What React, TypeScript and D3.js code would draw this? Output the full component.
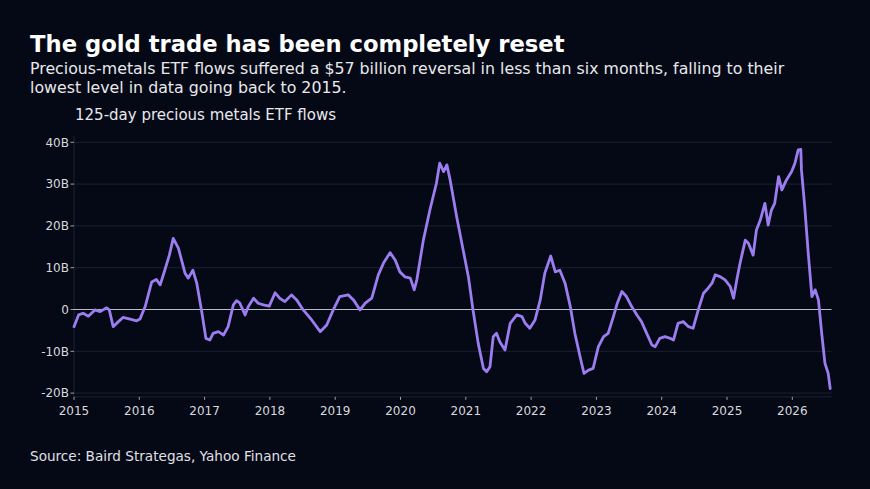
import { useEffect } from "react";
import * as d3 from "d3";

// decimal year of each reading
const years = [
  2015.0, 2015.07, 2015.14, 2015.22, 2015.32, 2015.4, 2015.5, 2015.54, 2015.6, 2015.68,
  2015.75, 2015.86, 2015.96, 2016.01, 2016.09, 2016.19, 2016.26, 2016.32, 2016.39, 2016.46,
  2016.52, 2016.6, 2016.7, 2016.75, 2016.82, 2016.88, 2016.96, 2017.02, 2017.08, 2017.13,
  2017.21, 2017.29, 2017.36, 2017.44, 2017.49, 2017.54, 2017.62, 2017.67, 2017.75, 2017.82,
  2017.9, 2017.99, 2018.08, 2018.15, 2018.23, 2018.33, 2018.41, 2018.51, 2018.64, 2018.77,
  2018.87, 2018.97, 2019.07, 2019.2, 2019.28, 2019.38, 2019.46, 2019.56, 2019.66, 2019.74,
  2019.84, 2019.92, 2019.99, 2020.07, 2020.15, 2020.21, 2020.25, 2020.35, 2020.45, 2020.55,
  2020.6, 2020.66, 2020.71, 2020.76, 2020.86, 2020.96, 2021.04, 2021.11, 2021.19, 2021.27,
  2021.32, 2021.37, 2021.42, 2021.47, 2021.52, 2021.6, 2021.68, 2021.78, 2021.86, 2021.91,
  2021.98, 2022.06, 2022.14, 2022.21, 2022.3, 2022.37, 2022.44, 2022.52, 2022.6, 2022.67,
  2022.75, 2022.81, 2022.88, 2022.95, 2023.03, 2023.11, 2023.18, 2023.26, 2023.32, 2023.39,
  2023.46, 2023.54, 2023.62, 2023.69, 2023.77, 2023.85, 2023.9, 2023.97, 2024.05, 2024.13,
  2024.18, 2024.25, 2024.33, 2024.41, 2024.48, 2024.56, 2024.64, 2024.71, 2024.77, 2024.82,
  2024.9, 2024.97, 2025.05, 2025.1, 2025.15, 2025.2, 2025.28, 2025.33, 2025.4, 2025.45,
  2025.51, 2025.58, 2025.63, 2025.68, 2025.73, 2025.79, 2025.84, 2025.91, 2025.99, 2026.04,
  2026.09, 2026.13, 2026.14, 2026.19, 2026.24, 2026.3, 2026.35, 2026.4, 2026.45, 2026.5,
  2026.55, 2026.58,
];

// 125-day flows, billions of dollars
const flows = [
  -4.1, -1.3, -0.9, -1.6, -0.1, -0.5, 0.4, -0.1, -4.1, -2.9,
  -1.9, -2.3, -2.7, -2.3, 0.7, 6.6, 7.2, 5.9, 9.4, 13.0,
  17.0, 14.6, 8.7, 7.5, 9.4, 6.3, -0.9, -6.9, -7.3, -5.7,
  -5.3, -6.1, -4.1, 1.1, 2.1, 1.5, -1.3, 0.7, 2.7, 1.5,
  1.1, 0.8, 4.0, 2.7, 1.9, 3.5, 2.3, -0.1, -2.5, -5.3,
  -3.7, -0.1, 3.1, 3.5, 2.3, -0.1, 1.5, 2.7, 8.3, 11.1,
  13.6, 11.8, 9.0, 7.8, 7.5, 4.7, 7.1, 16.6, 23.8, 30.2,
  35.0, 33.0, 34.6, 31.0, 22.2, 14.2, 7.8, -0.1, -8.1, -14.1,
  -14.9, -13.7, -6.5, -5.7, -7.7, -9.7, -3.3, -1.3, -1.7, -3.3,
  -4.5, -2.5, 2.3, 8.7, 12.8, 9.0, 9.4, 6.3, 0.7, -5.7,
  -11.3, -15.3, -14.5, -14.1, -8.9, -6.5, -5.7, -1.7, 1.5, 4.3,
  3.1, 0.7, -1.3, -2.9, -5.7, -8.5, -8.9, -6.9, -6.5, -6.9,
  -7.3, -3.3, -2.9, -4.1, -4.5, -0.1, 3.9, 5.1, 6.3, 8.3,
  7.8, 7.1, 5.5, 2.7, 7.1, 11.1, 16.6, 15.8, 13.0, 19.0,
  21.4, 25.4, 20.2, 23.8, 25.4, 31.8, 28.6, 31.0, 33.0, 35.0,
  38.2, 38.3, 33.4, 24.6, 14.2, 3.1, 4.7, 2.3, -5.7, -12.9,
  -15.3, -18.9,
];

const yTicks = [-20, -10, 0, 10, 20, 30, 40];
const xTicks = [2015, 2016, 2017, 2018, 2019, 2020, 2021, 2022, 2023, 2024, 2025, 2026];

const title = "The gold trade has been completely reset";
const subtitleLines = [
  "Precious-metals ETF flows suffered a $57 billion reversal in less than six months, falling to their",
  "lowest level in data going back to 2015.",
];
const chartLabel = "125-day precious metals ETF flows";
const source = "Source: Baird Strategas, Yahoo Finance";

const W = 870;
const H = 489;
const BG = "#050915";
const FONT = "'DejaVu Sans', sans-serif";

export default function App() {
  useEffect(() => {
    document.body.style.margin = "0";
    document.body.style.background = BG;
  }, []);

  const x = d3.scaleLinear().domain([2015, 2026.6]).range([74, 831.5]);
  const y = d3.scaleLinear().domain([-20, 40]).range([393.1, 142.3]);
  const yBottom = y(-20.9);
  const yTop = y(41.5);

  const points = years.map((t, i) => [t, flows[i]] as [number, number]);
  const line = d3
    .line<[number, number]>()
    .x((d) => x(d[0]))
    .y((d) => y(d[1]));

  const fmt = (v: number) => (v === 0 ? "0" : `${v}B`);

  return (
    <svg width={W} height={H} style={{ display: "block", background: BG }} fontFamily={FONT}>
      <rect x={0} y={0} width={W} height={H} fill={BG} />
      <text x={30} y={52} fill="#ffffff" fontSize={22.7} fontWeight="bold">
        {title}
      </text>
      {subtitleLines.map((s, i) => (
        <text key={i} x={30} y={73.5 + i * 19} fill="#e8e8ec" fontSize={15.8}>
          {s}
        </text>
      ))}
      <text x={75} y={120} fill="#e8e8ec" fontSize={15}>
        {chartLabel}
      </text>

      {/* grid */}
      {yTicks
        .filter((v) => v !== 0)
        .map((v) => (
          <line key={v} x1={x.range()[0]} x2={x.range()[1]} y1={y(v)} y2={y(v)} stroke="#1a2132" strokeWidth={1} />
        ))}
      {/* spines */}
      <line x1={x.range()[0]} x2={x.range()[0]} y1={yTop} y2={yBottom} stroke="#1e2536" strokeWidth={1} />
      <line x1={x.range()[0]} x2={x.range()[1]} y1={yBottom} y2={yBottom} stroke="#1e2536" strokeWidth={1} />

      {/* y axis */}
      {yTicks.map((v) => (
        <g key={v}>
          <line x1={x.range()[0] - 3.5} x2={x.range()[0]} y1={y(v)} y2={y(v)} stroke="#9aa0ab" strokeWidth={1} />
          <text x={x.range()[0] - 5} y={y(v)} dy="0.35em" textAnchor="end" fill="#d8d8de" fontSize={12}>
            {fmt(v)}
          </text>
        </g>
      ))}
      {/* x axis */}
      {xTicks.map((t) => (
        <g key={t}>
          <line x1={x(t)} x2={x(t)} y1={yBottom} y2={yBottom + 3} stroke="#9aa0ab" strokeWidth={1} />
          <text x={x(t)} y={yBottom + 18} textAnchor="middle" fill="#d8d8de" fontSize={12}>
            {t}
          </text>
        </g>
      ))}

      {/* zero line */}
      <line x1={x.range()[0]} x2={x.range()[1]} y1={y(0)} y2={y(0)} stroke="#b9bcc6" strokeWidth={1.2} />

      <path d={line(points) ?? ""} fill="none" stroke="#9b7df0" strokeWidth={2.8} strokeLinejoin="round" strokeLinecap="round" />

      <text x={30} y={461} fill="#e0e0e6" fontSize={13.6}>
        {source}
      </text>
    </svg>
  );
}
